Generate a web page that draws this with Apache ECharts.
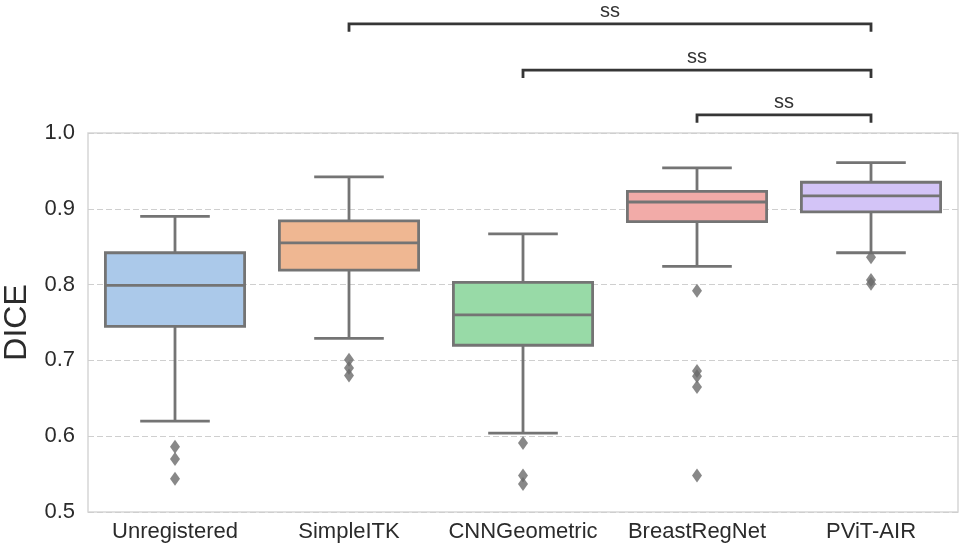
<!DOCTYPE html>
<html>
<head>
<meta charset="utf-8">
<script src="https://cdn.jsdelivr.net/npm/echarts@6/dist/echarts.min.js"></script>
<style>
html,body{margin:0;padding:0;background:#fff;}
#chart{width:960px;height:548px;}
</style>
</head>
<body>
<div id="chart"></div>
<script>
// ---- data ----
var categories = ['Unregistered', 'SimpleITK', 'CNNGeometric', 'BreastRegNet', 'PViT-AIR'];
var whiskerLow  = [0.620, 0.729, 0.604, 0.824, 0.842];
var q1          = [0.745, 0.819, 0.720, 0.883, 0.896];
var median      = [0.799, 0.855, 0.760, 0.909, 0.917];
var q3          = [0.842, 0.884, 0.803, 0.923, 0.935];
var whiskerHigh = [0.890, 0.942, 0.867, 0.954, 0.961];
var outliers = [
  [0.586, 0.570, 0.544],
  [0.701, 0.690, 0.680],
  [0.591, 0.548, 0.537],
  [0.792, 0.686, 0.679, 0.665, 0.548],
  [0.836, 0.806, 0.801]
];
var yTicks = [0.5, 0.6, 0.7, 0.8, 0.9, 1.0];
// significance brackets: from category, to category, level (data units), label
var sigFrom   = [1, 2, 3];
var sigTo     = [4, 4, 4];
var sigLevel  = [1.144, 1.083, 1.024];
var sigLabels = ['ss', 'ss', 'ss'];

// ---- styles ----
var boxColors = ['#abc9ea', '#efb792', '#98daa7', '#f2aba8', '#d3c4f7'];
var lineColor = '#747474';
var fontFam = '"Liberation Sans", Arial, Helvetica, sans-serif';

var boxData = categories.map(function (c, i) {
  return [i, whiskerLow[i], q1[i], median[i], q3[i], whiskerHigh[i]];
});
var outlierData = [];
outliers.forEach(function (arr, i) {
  arr.forEach(function (v) { outlierData.push([i, v]); });
});
var sigData = sigFrom.map(function (f, k) { return [f, sigTo[k], sigLevel[k], k]; });

var chart = echarts.init(document.getElementById('chart'), null, {renderer: 'canvas'});
chart.setOption({
  backgroundColor: '#ffffff',
  animation: false,
  grid: {left: 88, right: 2, top: 133, bottom: 36, show: true, borderColor: '#d6d6d6', borderWidth: 1.5,
    backgroundColor: 'transparent', containLabel: false, outerBoundsMode: 'none'},
  xAxis: {
    type: 'category',
    data: categories,
    axisLine: {show: false},
    axisTick: {show: false},
    splitLine: {show: false},
    axisLabel: {fontSize: 22, color: '#2b2b2b', margin: 9, interval: 0, hideOverlap: false, fontFamily: fontFam}
  },
  yAxis: {
    type: 'value',
    min: yTicks[0], max: yTicks[yTicks.length - 1], interval: 0.1,
    name: 'DICE',
    nameLocation: 'middle',
    nameGap: 50,
    nameTextStyle: {fontSize: 32, color: '#2b2b2b', fontFamily: fontFam},
    axisLine: {show: false},
    axisTick: {show: false},
    axisLabel: {fontSize: 22, color: '#2b2b2b', margin: 13, fontFamily: fontFam,
      formatter: function (v) { return v.toFixed(1); }},
    splitLine: {show: true, lineStyle: {color: '#cfcfcf', width: 1, type: [6, 3]}}
  },
  series: [
    {
      type: 'custom',
      data: boxData,
      clip: false,
      z: 3,
      renderItem: function (params, api) {
        var i = api.value(0);
        var pMin = api.coord([i, api.value(1)]);
        var pQ1 = api.coord([i, api.value(2)]);
        var pMed = api.coord([i, api.value(3)]);
        var pQ3 = api.coord([i, api.value(4)]);
        var pMax = api.coord([i, api.value(5)]);
        var band = api.size([1, 0])[0];
        var bw = band * 0.8;
        var cw = bw / 2;
        var x = pMed[0];
        var ls = {stroke: lineColor, lineWidth: 2.8, fill: null};
        return {
          type: 'group',
          children: [
            {type: 'line', shape: {x1: x, y1: pQ1[1], x2: x, y2: pMin[1]}, style: ls},
            {type: 'line', shape: {x1: x, y1: pQ3[1], x2: x, y2: pMax[1]}, style: ls},
            {type: 'line', shape: {x1: x - cw / 2, y1: pMin[1], x2: x + cw / 2, y2: pMin[1]}, style: ls},
            {type: 'line', shape: {x1: x - cw / 2, y1: pMax[1], x2: x + cw / 2, y2: pMax[1]}, style: ls},
            {type: 'rect', shape: {x: x - bw / 2, y: pQ3[1], width: bw, height: pQ1[1] - pQ3[1]},
              style: {fill: boxColors[i], stroke: lineColor, lineWidth: 2.8}},
            {type: 'line', shape: {x1: x - bw / 2, y1: pMed[1], x2: x + bw / 2, y2: pMed[1]}, style: ls}
          ]
        };
      }
    },
    {
      type: 'scatter',
      data: outlierData,
      symbol: 'diamond',
      symbolSize: [10, 14],
      itemStyle: {color: '#6a6a6a'},
      z: 4
    },
    {
      type: 'custom',
      data: sigData,
      clip: false,
      z: 5,
      renderItem: function (params, api) {
        var a = api.coord([api.value(0), api.value(2)]);
        var b = api.coord([api.value(1), api.value(2)]);
        var k = api.value(3);
        var tick = 8;
        return {
          type: 'group',
          children: [
            {type: 'polyline', shape: {points: [[a[0], a[1] + tick], [a[0], a[1]], [b[0], b[1]], [b[0], b[1] + tick]]},
              style: {stroke: '#363636', lineWidth: 2.8, fill: null}},
            {type: 'text', x: (a[0] + b[0]) / 2, y: a[1] - 12.5,
              style: {text: sigLabels[k], fill: '#333', fontSize: 20, fontFamily: fontFam, align: 'center', verticalAlign: 'middle'}}
          ]
        };
      }
    }
  ]
});
</script>
</body>
</html>
